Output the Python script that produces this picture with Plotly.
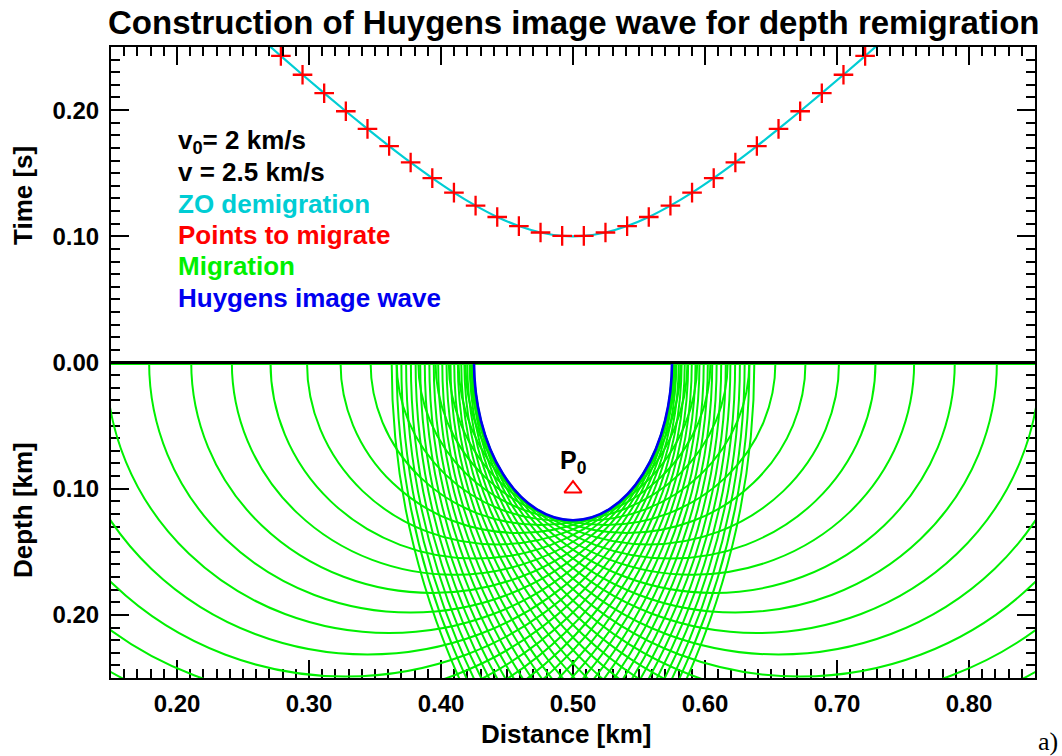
import plotly.graph_objects as go

# ---------------------------------------------------------------
# Data
# ---------------------------------------------------------------
# Zero-offset traveltime points to migrate (distance km, two-way time s).
# Only those with t <= 0.25 s fall inside the time window.
point_x = [0.0000, 0.0164, 0.0328, 0.0492, 0.0656, 0.0820, 0.0984, 0.1148,
           0.1311, 0.1475, 0.1639, 0.1803, 0.1967, 0.2131, 0.2295, 0.2459,
           0.2623, 0.2787, 0.2951, 0.3115, 0.3279, 0.3443, 0.3607, 0.3770,
           0.3934, 0.4098, 0.4262, 0.4426, 0.4590, 0.4754, 0.4918,
           0.5082, 0.5246, 0.5410, 0.5574, 0.5738, 0.5902, 0.6066, 0.6230,
           0.6393, 0.6557, 0.6721, 0.6885, 0.7049, 0.7213, 0.7377, 0.7541,
           0.7705, 0.7869, 0.8033, 0.8197, 0.8361, 0.8525, 0.8689, 0.8852,
           0.9016, 0.9180, 0.9344, 0.9508, 0.9672, 0.9836, 1.0000]
point_t = [0.5099, 0.4938, 0.4778, 0.4618, 0.4458, 0.4298, 0.4139, 0.3980,
           0.3822, 0.3664, 0.3506, 0.3350, 0.3193, 0.3038, 0.2884, 0.2731,
           0.2579, 0.2429, 0.2280, 0.2134, 0.1991, 0.1851, 0.1715, 0.1585,
           0.1461, 0.1346, 0.1243, 0.1153, 0.1081, 0.1030, 0.1003,
           0.1003, 0.1030, 0.1081, 0.1153, 0.1243, 0.1346, 0.1461, 0.1585,
           0.1715, 0.1851, 0.1991, 0.2134, 0.2280, 0.2429, 0.2579, 0.2731,
           0.2884, 0.3038, 0.3193, 0.3350, 0.3506, 0.3664, 0.3822, 0.3980,
           0.4139, 0.4298, 0.4458, 0.4618, 0.4778, 0.4938, 0.5099]

# Velocities (km/s)
v0 = 2.0     # demigration velocity
v_mig = 2.5  # migration velocity

# Reflector point P0 (distance km, depth km)
p0_x = [0.500]
p0_z = [0.100]

# Huygens image wave: half-ellipse (apex distance, half width, max depth, km)
huy_x0 = 0.500
huy_halfwidth = 0.075
huy_depth = 0.125

# Axis ticks
x_ticks = [0.20, 0.30, 0.40, 0.50, 0.60, 0.70, 0.80]
t_ticks = [0.00, 0.10, 0.20]
z_ticks = [0.10, 0.20]

# ---------------------------------------------------------------
# Styling / layout helpers
# ---------------------------------------------------------------
W, H = 1062, 756
ML, MR, MT, MB = 111, 27, 47, 78
PW, PH = W - ML - MR, H - MT - MB

FONT = "Liberation Sans, Arial, sans-serif"
CYAN = "#00CDD4"
RED = "#FF0000"
GREEN = "#00F000"
BLUE = "#0000F0"


def paper(xp, yp):
    """Pixel position -> paper coordinates."""
    return (xp - ML) / PW, (H - MB - yp) / PH


fig = go.Figure()

# Cyan ZO demigration curve (top panel)
fig.add_trace(go.Scatter(
    x=point_x, y=point_t, mode="lines", line=dict(color=CYAN, width=2.2, shape="spline"),
    xaxis="x2", yaxis="y2", hoverinfo="skip", showlegend=False))

# Red points to migrate
fig.add_trace(go.Scatter(
    x=point_x, y=point_t, mode="markers", cliponaxis=True,
    marker=dict(symbol="cross-thin", size=14, line=dict(color=RED, width=2.3)),
    xaxis="x2", yaxis="y2", showlegend=False))

# P0 marker (bottom panel)
fig.add_trace(go.Scatter(
    x=p0_x, y=p0_z, mode="markers",
    marker=dict(symbol="triangle-up-open", size=15, color=RED, line=dict(color=RED, width=2)),
    xaxis="x", yaxis="y", showlegend=False))

shapes = []
# Green line along the surface (diameters of the migration semicircles)
shapes.append(dict(type="line", xref="x", yref="y", x0=0.15, x1=0.85, y0=0, y1=0,
                   line=dict(color=GREEN, width=5)))
# Migration semicircles: centred at each point, radius v*t/2
for xc, tc in zip(point_x, point_t):
    r = v_mig * tc / 2.0
    shapes.append(dict(type="circle", xref="x", yref="y",
                       x0=xc - r, x1=xc + r, y0=-r, y1=r,
                       line=dict(color=GREEN, width=2)))
# Huygens image wave
shapes.append(dict(type="circle", xref="x", yref="y",
                   x0=huy_x0 - huy_halfwidth, x1=huy_x0 + huy_halfwidth,
                   y0=-huy_depth, y1=huy_depth,
                   line=dict(color=BLUE, width=2.6)))
# Surface line between the two panels
shapes.append(dict(type="line", xref="paper", yref="paper", x0=0, x1=1, y0=0.5, y1=0.5,
                   line=dict(color="black", width=3)))

annotations = []


def add_text(xp, yp, text, size=26, color="black", family=FONT, xanchor="left",
             yanchor="middle", angle=0):
    px, py = paper(xp, yp)
    annotations.append(dict(xref="paper", yref="paper", x=px, y=py, text=text,
                            showarrow=False, xanchor=xanchor, yanchor=yanchor,
                            textangle=angle,
                            font=dict(family=family, size=size, color=color)))


# Title
add_text(573, 22, "<b>Construction of Huygens image wave for depth remigration</b>",
         size=33, xanchor="center")
# Labels in the top panel
legend_lines = [
    ("<b>v<sub>0</sub>= 2 km/s</b>", "black"),
    ("<b>v = 2.5 km/s</b>", "black"),
    ("<b>ZO demigration</b>", CYAN),
    ("<b>Points to migrate</b>", RED),
    ("<b>Migration</b>", GREEN),
    ("<b>Huygens image wave</b>", BLUE),
]
for i, (txt, col) in enumerate(legend_lines):
    add_text(176, 141 + i * 31.3, txt, size=26, color=col)

# P0 label
add_text(573, 462, "<b>P<sub>0</sub></b>", size=25, xanchor="center")

# Axis titles
add_text(566, 734, "<b>Distance [km]</b>", size=26, xanchor="center")
add_text(23, 196, "<b>Time [s]</b>", size=26, xanchor="center", angle=-90)
add_text(23, 510, "<b>Depth [km]</b>", size=26, xanchor="center", angle=-90)

# Panel tag
add_text(1048, 741, "a)", size=26, family="Liberation Serif, Times New Roman, serif",
         xanchor="center")

tickfont = dict(family=FONT, size=24, color="black", weight="bold")
common = dict(showline=True, linecolor="black", linewidth=2, ticks="inside",
              ticklen=18, tickwidth=2, tickcolor="black", showgrid=False,
              zeroline=False, tickfont=tickfont,
              minor=dict(ticks="inside", ticklen=9, tickwidth=2, tickcolor="black",
                         tickmode="linear", tick0=0, dtick=0.01, showgrid=False))

fig.update_layout(
    width=W, height=H,
    margin=dict(l=ML, r=MR, t=MT, b=MB, pad=0),
    paper_bgcolor="white", plot_bgcolor="white",
    showlegend=False,
    xaxis=dict(domain=[0, 1], anchor="y", range=[0.15, 0.85], side="bottom",
               tickmode="array", tickvals=x_ticks,
               ticktext=[f"{v:.2f}" for v in x_ticks], mirror=True,
               ticklabelstandoff=3, **common),
    yaxis=dict(domain=[0, 0.5], anchor="x", range=[0.25, 0],
               tickmode="array", tickvals=z_ticks,
               ticktext=[f"{v:.2f}" for v in z_ticks], mirror="ticks",
               ticklabelstandoff=5, **common),
    xaxis2=dict(domain=[0, 1], anchor="y2", range=[0.15, 0.85], side="top",
                matches="x", tickmode="array", tickvals=x_ticks,
                showticklabels=False, mirror=True, **common),
    yaxis2=dict(domain=[0.5, 1], anchor="x2", range=[0, 0.25],
                tickmode="array", tickvals=t_ticks,
                ticktext=[f"{v:.2f}" for v in t_ticks], mirror="ticks",
                ticklabelstandoff=5, **common),
    shapes=shapes,
    annotations=annotations,
)

fig.write_html("out.html")
